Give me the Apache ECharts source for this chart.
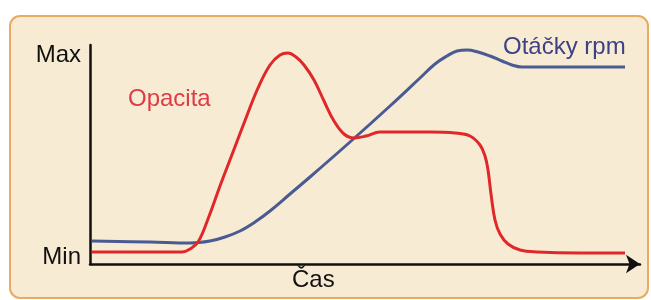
<!DOCTYPE html>
<html>
<head>
<meta charset="utf-8">
<script src="https://cdn.jsdelivr.net/npm/echarts@6/dist/echarts.min.js"></script>
<style>
  html, body { margin: 0; padding: 0; background: #fff; }
  #main { width: 651px; height: 300px; }
</style>
</head>
<body>
<div id="main"></div>
<script>
// čas (libovolné jednotky) a hodnoty
const opacitaCas = [2, 60, 92, 100, 108, 118, 130, 143, 156, 168, 180, 190, 198, 206, 214, 224, 234, 244, 254, 264, 276, 290, 310, 340, 365, 380, 390, 395, 398, 401, 405, 410, 418, 430, 447, 490, 535];
const opacitaHodnoty = [12, 12, 12, 15, 22, 45, 78, 112, 146, 176, 199, 209, 211, 207, 199, 184, 163, 143, 130, 126, 128, 132, 132, 132, 131, 128, 119, 108, 94, 70, 44, 30, 20, 14, 12, 11, 11];

const otackyCas = [2, 60, 100, 120, 135, 150, 165, 180, 200, 220, 260, 300, 330, 345, 357, 367, 377, 388, 400, 412, 422, 432, 535];
const otackyHodnoty = [23, 22, 21, 23, 27, 33, 42, 53, 70, 87, 122, 158, 186, 200, 208, 213, 214, 212, 208, 203, 199, 197, 197];

// popisky osy y
const yPopisky = [7, 209];
const yTexty = { 7: 'Min', 209: 'Max' };

const zip = (a, b) => a.map((v, i) => [v, b[i]]);

const font = 'Liberation Sans, Arial, sans-serif';
const myChart = echarts.init(document.getElementById('main'));

const option = {
  backgroundColor: '#ffffff',
  animation: false,
  grid: { left: 90, right: 11, top: 45, bottom: 36, show: false },
  graphic: [
    {
      type: 'rect',
      z: -10,
      shape: { x: 10, y: 16, width: 638, height: 282, r: 10 },
      style: { fill: '#f8ebd3', stroke: '#e9aa62', lineWidth: 2 }
    },
    {
      type: 'text',
      left: 128, top: 87,
      style: { text: 'Opacita', fill: '#dd3b45', font: '24px ' + font }
    },
    {
      type: 'text',
      left: 503, top: 35,
      style: { text: 'Otáčky rpm', fill: '#3d4185', font: '24px ' + font }
    },
    {
      type: 'text',
      left: 292, top: 268,
      style: { text: 'Čas', fill: '#111', font: '24px ' + font }
    }
  ],
  xAxis: {
    type: 'value',
    min: 0,
    max: 550,
    splitLine: { show: false },
    axisTick: { show: false },
    axisLabel: { show: false },
    axisLine: {
      onZero: false,
      symbol: ['none', 'arrow'],
      symbolSize: [14, 14],
      lineStyle: { color: '#111', width: 2.5 }
    }
  },
  yAxis: {
    type: 'value',
    min: 0,
    max: 219,
    splitLine: { show: false },
    axisTick: { show: false },
    axisLine: { show: true, lineStyle: { color: '#111', width: 2.5 } },
    axisLabel: {
      customValues: yPopisky,
      formatter: v => yTexty[v] || '',
      color: '#111',
      fontSize: 24,
      fontFamily: font,
      margin: 9
    }
  },
  series: [
    {
      name: 'Otáčky rpm',
      type: 'line',
      data: zip(otackyCas, otackyHodnoty),
      smooth: 0.4,
      showSymbol: false,
      lineStyle: { color: '#4a5a92', width: 3 }
    },
    {
      name: 'Opacita',
      type: 'line',
      data: zip(opacitaCas, opacitaHodnoty),
      smooth: 0.4,
      showSymbol: false,
      lineStyle: { color: '#e0282a', width: 3 }
    }
  ]
};

myChart.setOption(option);
</script>
</body>
</html>
